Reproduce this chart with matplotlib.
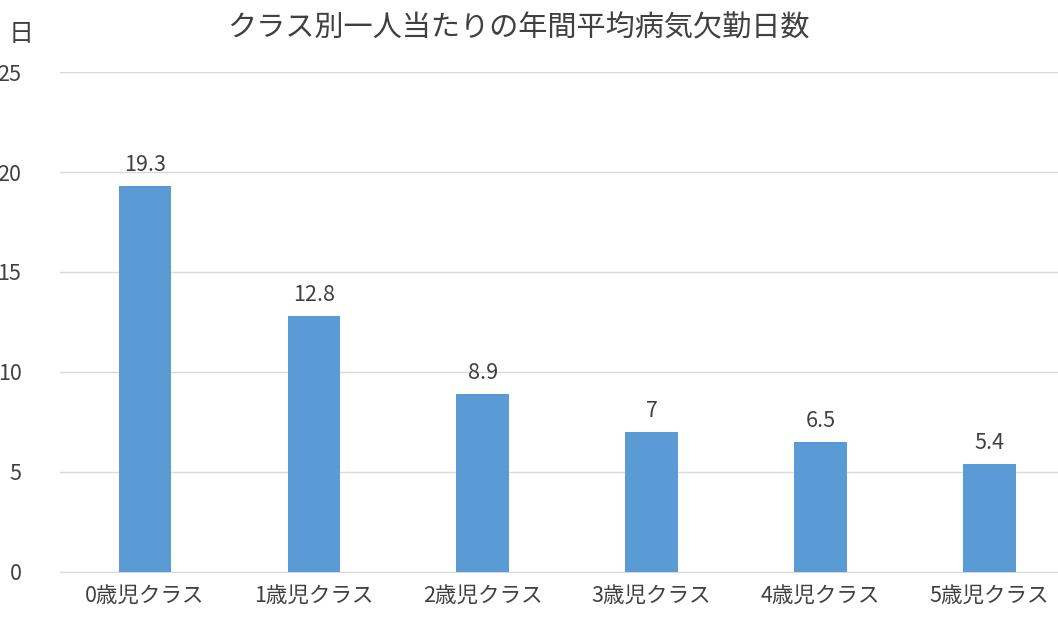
import matplotlib
matplotlib.use("Agg")
import matplotlib.pyplot as plt

plt.rcParams["font.family"] = ["Noto Sans CJK JP", "DejaVu Sans"]

categories = ["0歳児クラス", "1歳児クラス", "2歳児クラス", "3歳児クラス", "4歳児クラス", "5歳児クラス"]
values = [19.3, 12.8, 8.9, 7, 6.5, 5.4]
labels = ["19.3", "12.8", "8.9", "7", "6.5", "5.4"]
yticks = [0, 5, 10, 15, 20, 25]

TEXT = "#404040"
fig = plt.figure(figsize=(10.58, 6.21), dpi=100)
ax = fig.add_axes([0.057, 0.079, 0.958, 0.805])
x = range(len(categories))
ax.bar(x, values, width=0.31, color="#5B9BD5", zorder=3)
for xi, v, lab in zip(x, values, labels):
    ax.text(xi, v + 0.5, lab, ha="center", va="bottom", fontsize=15.5, color=TEXT)

ax.set_xlim(-0.5, 5.5)
ax.set_ylim(0, 25)
ax.set_yticks(yticks)
ax.set_xticks(list(x))
ax.set_xticklabels(categories)
ax.grid(axis="y", color="#D9D9D9", linewidth=1, zorder=0)
for s in ("top", "right", "left"):
    ax.spines[s].set_visible(False)
ax.spines["bottom"].set_color("#D9D9D9")
ax.tick_params(length=0, labelsize=15.5, labelcolor=TEXT, pad=10)
ax.tick_params(axis="y", pad=28)

fig.text(0.49, 0.955, "クラス別一人当たりの年間平均病気欠勤日数", ha="center", va="center",
         fontsize=21, color=TEXT)
fig.text(0.02, 0.945, "日", ha="center", va="center", fontsize=18, color=TEXT)

fig.savefig("out.png")
